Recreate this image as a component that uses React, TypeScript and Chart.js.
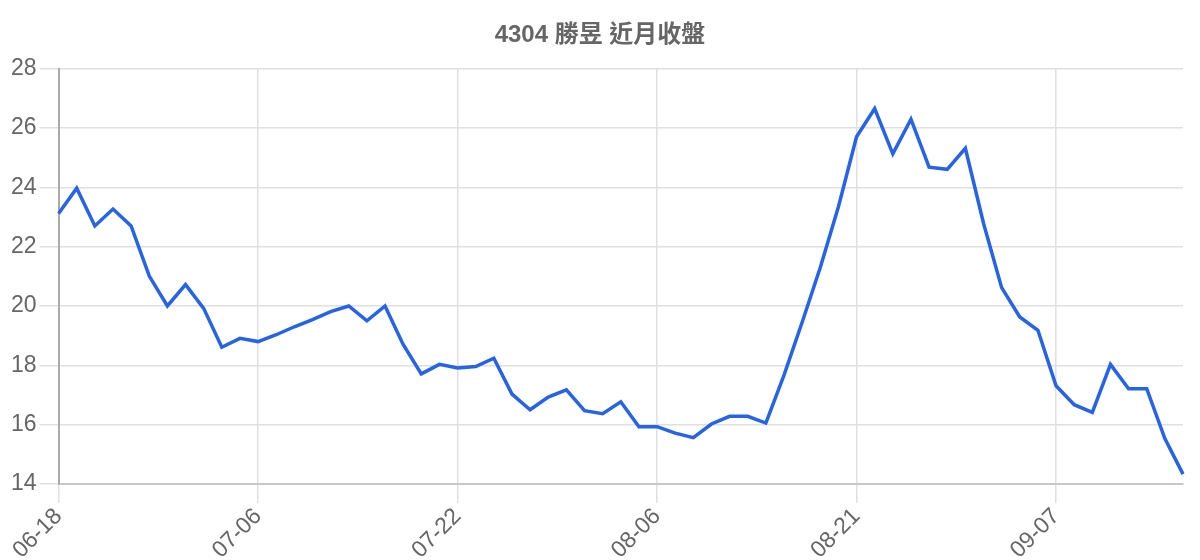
import React, { useEffect, useRef } from "react";
import { Chart, registerables } from "chart.js";

Chart.register(...registerables);

const TITLE = "4304 勝昱 近月收盤";

const DATES = [
  "06-18", "06-19", "06-20", "06-21", "06-24", "06-25", "06-26", "06-27", "06-28", "07-01", "07-03",
  "07-06", "07-08", "07-09", "07-10", "07-11", "07-12", "07-15", "07-16", "07-17", "07-18", "07-19",
  "07-22", "07-23", "07-24", "07-25", "07-26", "07-29", "07-30", "07-31", "08-01", "08-02", "08-05",
  "08-06", "08-07", "08-08", "08-09", "08-12", "08-13", "08-14", "08-15", "08-16", "08-19", "08-20",
  "08-21", "08-22", "08-23", "08-26", "08-27", "08-28", "08-29", "08-30", "09-02", "09-03", "09-04",
  "09-07", "09-09", "09-10", "09-11", "09-12", "09-13", "09-16", "09-17",
];

const CLOSES = [
  23.12, 23.97, 22.7, 23.27, 22.7, 21.01, 20.0, 20.72, 19.92, 18.61, 18.91,
  18.8, 19.03, 19.3, 19.54, 19.81, 20.0, 19.5, 20.0, 18.7, 17.71, 18.03,
  17.91, 17.96, 18.24, 17.03, 16.5, 16.93, 17.17, 16.47, 16.37, 16.77, 15.93,
  15.93, 15.71, 15.56, 16.02, 16.28, 16.28, 16.05, 17.67, 19.45, 21.3, 23.35,
  25.71, 26.66, 25.13, 26.3, 24.68, 24.61, 25.32, 22.79, 20.62, 19.63, 19.18,
  17.31, 16.67, 16.41, 18.03, 17.21, 17.21, 15.53, 14.33,
];

const Y_MIN = 14;
const Y_MAX = 28;
const Y_STEP = 2;

const FONT = "'Liberation Sans', Arial, 'Noto Sans CJK TC', sans-serif";

const centerTitle = {
  id: "centerTitle",
  afterLayout(chart: any) {
    const t = chart.titleBlock;
    if (t) {
      t.left = 0;
      t.right = chart.width;
      t.width = chart.width;
    }
  },
};

export default function App() {
  const ref = useRef<HTMLCanvasElement | null>(null);

  useEffect(() => {
    if (!ref.current) return;
    const chart = new Chart(ref.current, {
      type: "line",
      data: {
        labels: DATES,
        datasets: [
          {
            label: TITLE,
            data: CLOSES,
            borderColor: "#2563eb",
            backgroundColor: "#2563eb",
            borderWidth: 3.5,
            pointRadius: 0,
            tension: 0,
            fill: false,
          },
        ],
      },
      options: {
        animation: false,
        responsive: true,
        maintainAspectRatio: false,
        layout: { padding: { left: 0, right: 9, top: 0, bottom: 0 } },
        plugins: {
          legend: { display: false },
          tooltip: { enabled: false },
          title: {
            display: true,
            text: TITLE,
            color: "#666",
            font: { family: FONT, size: 24, weight: "bold" },
            padding: { top: 12.5, bottom: 19.5 },
          },
        },
        scales: {
          x: {
            grid: { color: "#e0e0e0", tickLength: 19, lineWidth: 1.5 },
            border: { color: "#c8c8c8", width: 2 },
            ticks: {
              color: "#666",
              font: { family: FONT, size: 23 },
              autoSkip: true,
              maxTicksLimit: 6,
              maxRotation: 45,
              minRotation: 45,
              padding: 0,
            },
          },
          y: {
            min: Y_MIN,
            max: Y_MAX,
            grid: { color: "#e0e0e0", tickLength: 19, lineWidth: 1.5 },
            border: { color: "#aaa", width: 2 },
            ticks: {
              stepSize: Y_STEP,
              color: "#666",
              font: { family: FONT, size: 23 },
              padding: 3,
            },
          },
        },
      },
      plugins: [centerTitle],
    });
    return () => chart.destroy();
  }, []);

  return (
    <div style={{ width: 1184, height: 556 }}>
      <canvas ref={ref} />
    </div>
  );
}
